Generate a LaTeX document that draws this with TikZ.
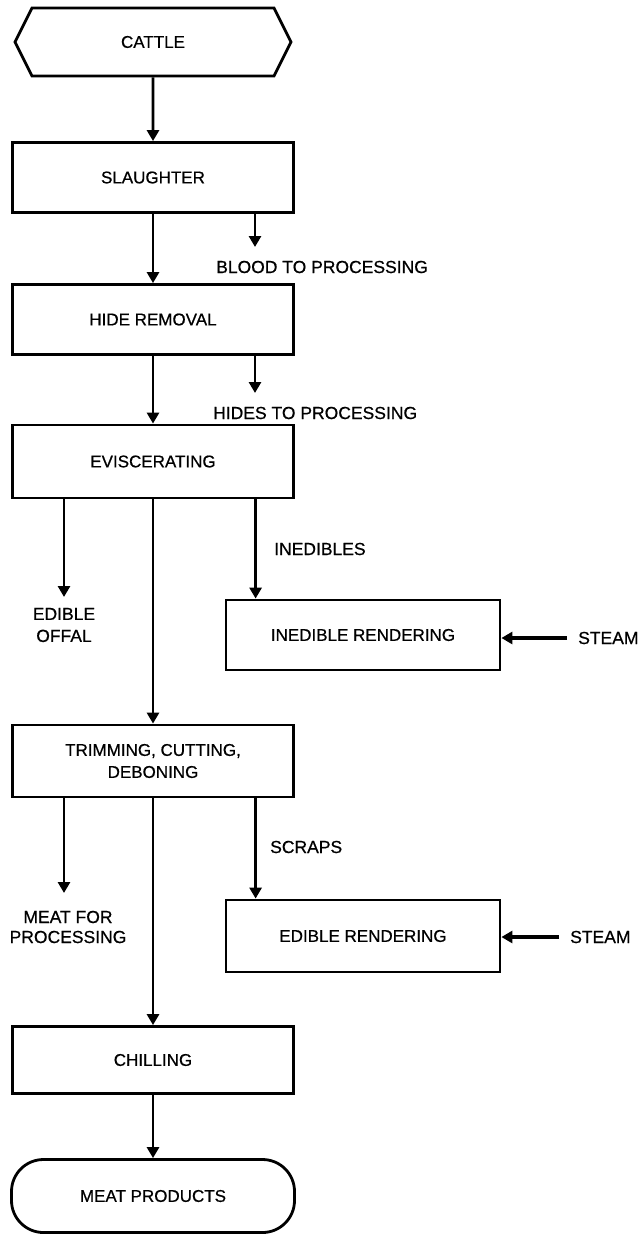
\documentclass[tikz,border=0pt]{standalone}
\usepackage{fontspec}
\setmainfont{Liberation Sans}
\newfontfamily\diagfont{Liberation Sans}[FakeBold=0.6]
\usetikzlibrary{positioning, arrows.meta, shapes.symbols}
\tikzset{
    procnode/.style={rectangle, draw, line width=2.8pt, minimum width=281pt, minimum height=70pt, align=center, font=\diagfont\fontsize{17}{22}\selectfont, inner sep=0pt},
    rendnode/.style={procnode, minimum width=274pt},
    endnode/.style={procnode, rounded corners=32pt, minimum height=73pt, minimum width=283pt},
    hexnode/.style={signal, signal to=west and east, signal pointer angle=127, draw, line width=2.8pt, minimum width=276pt, minimum height=68pt, font=\diagfont\fontsize{17}{22}\selectfont, inner sep=0pt},
    sidelabel/.style={align=center, font=\diagfont\fontsize{17.5}{22}\selectfont, inner sep=0pt},
    flow/.style={-{Triangle[length=11pt, width=12pt]}, line width=2.8pt},
    steamflow/.style={flow, line width=4.2pt},
}

\begin{document}
\begin{tikzpicture}[x=1pt, y=-1pt]
    \useasboundingbox (0,0) rectangle (643,1234);

    % Linea principale
    \node[hexnode]  (cattle)    at (153,42)     {CATTLE};
    \node[procnode] (slaughter) at (153,177.5)  {SLAUGHTER};
    \node[procnode] (hide)      at (153,319.5)  {HIDE REMOVAL};
    \node[procnode, minimum height=73pt] (evisc) at (153,461.5) {EVISCERATING};
    \node[procnode, minimum height=72pt] (trim)  at (153,761)   {TRIMMING, CUTTING,\\DEBONING};
    \node[procnode, minimum height=67pt] (chill) at (153,1060)  {CHILLING};
    \node[endnode]  (meat)      at (153,1196)   {MEAT PRODUCTS};

    % Rendering
    \node[rendnode] (ined)   at (363,635) {INEDIBLE RENDERING};
    \node[rendnode, minimum height=72pt] (edible) at (363,936) {EDIBLE RENDERING};

    % Vapore
    \node[sidelabel, anchor=west] (steama) at (578,638) {STEAM};
    \node[sidelabel, anchor=west] (steamb) at (570,937) {STEAM};

    % Etichette laterali
    \node[sidelabel, anchor=west] (bloodlbl)  at (216,267) {BLOOD TO PROCESSING};
    \node[sidelabel, anchor=west] (hideslbl)  at (213,413) {HIDES TO PROCESSING};
    \node[sidelabel, anchor=west] (inedlbl)   at (274,549) {INEDIBLES};
    \node[sidelabel, anchor=west] (scrapslbl) at (270,847) {SCRAPS};
    \node[sidelabel] (offallbl) at (64,625) {EDIBLE\\OFFAL};
    \node[sidelabel, font=\diagfont\fontsize{17.5}{20}\selectfont] (proclbl) at (68,927) {MEAT FOR\\PROCESSING};

    % Estremi liberi
    \coordinate (bloodend) at (255,247);
    \coordinate (hidesend) at (255,393);
    \coordinate (offalend) at (64,597);
    \coordinate (procend)  at (64,893);
    \coordinate (inedin)   at ([xshift=31pt]ined.north west);
    \coordinate (scrapsin) at ([xshift=31pt]edible.north west);

    % Frecce
    \draw[flow] (cattle) -- (slaughter);
    \draw[flow] (slaughter) -- (hide);
    \draw[flow] (hide) -- (evisc);
    \draw[flow] (evisc) -- (trim);
    \draw[flow] (trim) -- (chill);
    \draw[flow] (chill) -- (meat);
    \draw[flow] (slaughter.south -| bloodend) -- (bloodend);
    \draw[flow] (hide.south -| hidesend) -- (hidesend);
    \draw[flow] (evisc.south -| offalend) -- (offalend);
    \draw[flow] (evisc.south -| inedin) -- (inedin);
    \draw[flow] (trim.south -| procend) -- (procend);
    \draw[flow] (trim.south -| scrapsin) -- (scrapsin);
    \draw[steamflow] ([xshift=-11pt]steama.west) -- (ined.east |- steama.west);
    \draw[steamflow] ([xshift=-11pt]steamb.west) -- (edible.east |- steamb.west);
\end{tikzpicture}
\end{document}
